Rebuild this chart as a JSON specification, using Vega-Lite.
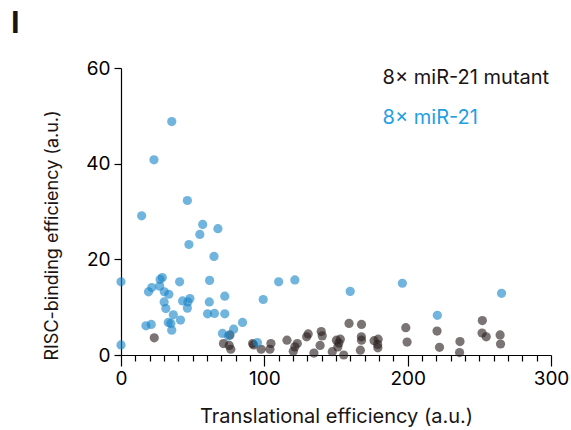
{
  "$schema": "https://vega.github.io/schema/vega-lite/v6.json",
  "width": 430,
  "height": 287,
  "autosize": "none",
  "padding": {"left": 121, "top": 68, "right": 20, "bottom": 75},
  "background": "white",
  "config": {
    "view": {"stroke": null},
    "font": "Inter",
    "axis": {"grid": false, "domainColor": "#000", "tickColor": "#000", "labelColor": "#000", "titleColor": "#1a1414", "labelFont": "Inter", "titleFont": "Inter", "titleFontWeight": "normal", "labelOverlap": false}
  },
  "title": {"text": "I", "anchor": "start", "frame": "group", "dx": -110, "dy": -15, "fontSize": 31, "fontWeight": "bold", "color": "#1a1414", "font": "Liberation Sans"},
  "datasets": {
    "pts": [
      {"te": 23.2, "rb": 3.6, "group": "8× miR-21 mutant"},
      {"te": 71.5, "rb": 2.4, "group": "8× miR-21 mutant"},
      {"te": 75.5, "rb": 2.0, "group": "8× miR-21 mutant"},
      {"te": 76.6, "rb": 1.2, "group": "8× miR-21 mutant"},
      {"te": 76.0, "rb": 4.2, "group": "8× miR-21 mutant"},
      {"te": 91.8, "rb": 2.4, "group": "8× miR-21 mutant"},
      {"te": 92.5, "rb": 2.1, "group": "8× miR-21 mutant"},
      {"te": 97.8, "rb": 1.2, "group": "8× miR-21 mutant"},
      {"te": 104.6, "rb": 2.4, "group": "8× miR-21 mutant"},
      {"te": 103.9, "rb": 1.2, "group": "8× miR-21 mutant"},
      {"te": 115.8, "rb": 3.1, "group": "8× miR-21 mutant"},
      {"te": 123.0, "rb": 2.4, "group": "8× miR-21 mutant"},
      {"te": 121.3, "rb": 1.7, "group": "8× miR-21 mutant"},
      {"te": 120.2, "rb": 0.8, "group": "8× miR-21 mutant"},
      {"te": 129.5, "rb": 3.8, "group": "8× miR-21 mutant"},
      {"te": 130.6, "rb": 4.4, "group": "8× miR-21 mutant"},
      {"te": 134.6, "rb": 0.4, "group": "8× miR-21 mutant"},
      {"te": 139.7, "rb": 4.9, "group": "8× miR-21 mutant"},
      {"te": 140.4, "rb": 4.0, "group": "8× miR-21 mutant"},
      {"te": 138.9, "rb": 2.0, "group": "8× miR-21 mutant"},
      {"te": 147.4, "rb": 0.7, "group": "8× miR-21 mutant"},
      {"te": 150.3, "rb": 3.1, "group": "8× miR-21 mutant"},
      {"te": 153.0, "rb": 3.3, "group": "8× miR-21 mutant"},
      {"te": 152.0, "rb": 2.5, "group": "8× miR-21 mutant"},
      {"te": 151.3, "rb": 1.7, "group": "8× miR-21 mutant"},
      {"te": 155.4, "rb": 0.0, "group": "8× miR-21 mutant"},
      {"te": 159.1, "rb": 6.6, "group": "8× miR-21 mutant"},
      {"te": 167.8, "rb": 6.4, "group": "8× miR-21 mutant"},
      {"te": 167.7, "rb": 3.8, "group": "8× miR-21 mutant"},
      {"te": 167.8, "rb": 3.1, "group": "8× miR-21 mutant"},
      {"te": 167.0, "rb": 1.0, "group": "8× miR-21 mutant"},
      {"te": 176.6, "rb": 3.0, "group": "8× miR-21 mutant"},
      {"te": 179.4, "rb": 3.3, "group": "8× miR-21 mutant"},
      {"te": 179.1, "rb": 2.2, "group": "8× miR-21 mutant"},
      {"te": 179.2, "rb": 1.5, "group": "8× miR-21 mutant"},
      {"te": 198.7, "rb": 5.7, "group": "8× miR-21 mutant"},
      {"te": 199.6, "rb": 2.7, "group": "8× miR-21 mutant"},
      {"te": 220.5, "rb": 5.0, "group": "8× miR-21 mutant"},
      {"te": 222.2, "rb": 1.6, "group": "8× miR-21 mutant"},
      {"te": 236.5, "rb": 2.8, "group": "8× miR-21 mutant"},
      {"te": 236.2, "rb": 0.5, "group": "8× miR-21 mutant"},
      {"te": 252.1, "rb": 7.2, "group": "8× miR-21 mutant"},
      {"te": 251.9, "rb": 4.6, "group": "8× miR-21 mutant"},
      {"te": 254.8, "rb": 3.8, "group": "8× miR-21 mutant"},
      {"te": 264.5, "rb": 4.2, "group": "8× miR-21 mutant"},
      {"te": 264.8, "rb": 2.3, "group": "8× miR-21 mutant"},
      {"te": 35.4, "rb": 48.8, "group": "8× miR-21"},
      {"te": 23.0, "rb": 40.8, "group": "8× miR-21"},
      {"te": 46.3, "rb": 32.3, "group": "8× miR-21"},
      {"te": 14.4, "rb": 29.1, "group": "8× miR-21"},
      {"te": 57.0, "rb": 27.3, "group": "8× miR-21"},
      {"te": 55.0, "rb": 25.2, "group": "8× miR-21"},
      {"te": 67.6, "rb": 26.4, "group": "8× miR-21"},
      {"te": 47.4, "rb": 23.1, "group": "8× miR-21"},
      {"te": 64.9, "rb": 20.6, "group": "8× miR-21"},
      {"te": 0.0, "rb": 15.3, "group": "8× miR-21"},
      {"te": 61.8, "rb": 15.6, "group": "8× miR-21"},
      {"te": 40.9, "rb": 15.3, "group": "8× miR-21"},
      {"te": 110.0, "rb": 15.3, "group": "8× miR-21"},
      {"te": 121.3, "rb": 15.7, "group": "8× miR-21"},
      {"te": 28.8, "rb": 16.2, "group": "8× miR-21"},
      {"te": 27.3, "rb": 15.8, "group": "8× miR-21"},
      {"te": 21.5, "rb": 14.1, "group": "8× miR-21"},
      {"te": 19.2, "rb": 13.2, "group": "8× miR-21"},
      {"te": 27.0, "rb": 14.4, "group": "8× miR-21"},
      {"te": 30.2, "rb": 13.2, "group": "8× miR-21"},
      {"te": 33.4, "rb": 12.7, "group": "8× miR-21"},
      {"te": 30.1, "rb": 11.1, "group": "8× miR-21"},
      {"te": 31.3, "rb": 9.7, "group": "8× miR-21"},
      {"te": 43.0, "rb": 11.3, "group": "8× miR-21"},
      {"te": 48.1, "rb": 11.8, "group": "8× miR-21"},
      {"te": 46.7, "rb": 11.1, "group": "8× miR-21"},
      {"te": 46.3, "rb": 9.8, "group": "8× miR-21"},
      {"te": 61.6, "rb": 11.1, "group": "8× miR-21"},
      {"te": 60.4, "rb": 8.6, "group": "8× miR-21"},
      {"te": 65.2, "rb": 8.7, "group": "8× miR-21"},
      {"te": 72.4, "rb": 12.3, "group": "8× miR-21"},
      {"te": 72.4, "rb": 8.6, "group": "8× miR-21"},
      {"te": 99.2, "rb": 11.6, "group": "8× miR-21"},
      {"te": 36.5, "rb": 8.4, "group": "8× miR-21"},
      {"te": 41.5, "rb": 7.3, "group": "8× miR-21"},
      {"te": 33.0, "rb": 6.8, "group": "8× miR-21"},
      {"te": 34.8, "rb": 6.6, "group": "8× miR-21"},
      {"te": 35.4, "rb": 5.2, "group": "8× miR-21"},
      {"te": 21.1, "rb": 6.4, "group": "8× miR-21"},
      {"te": 17.4, "rb": 6.1, "group": "8× miR-21"},
      {"te": 84.8, "rb": 6.8, "group": "8× miR-21"},
      {"te": 78.6, "rb": 5.4, "group": "8× miR-21"},
      {"te": 70.8, "rb": 4.5, "group": "8× miR-21"},
      {"te": 74.9, "rb": 4.0, "group": "8× miR-21"},
      {"te": 95.2, "rb": 2.6, "group": "8× miR-21"},
      {"te": 0.0, "rb": 2.1, "group": "8× miR-21"},
      {"te": 159.9, "rb": 13.3, "group": "8× miR-21"},
      {"te": 196.3, "rb": 15.0, "group": "8× miR-21"},
      {"te": 220.7, "rb": 8.3, "group": "8× miR-21"},
      {"te": 265.5, "rb": 12.9, "group": "8× miR-21"}
    ],
    "labels": [
      {"te": 182.5, "rb": 57.9, "group": "8× miR-21 mutant"},
      {"te": 182.5, "rb": 49.5, "group": "8× miR-21"}
    ]
  },
  "layer": [
    {
      "data": {"name": "pts"},
      "mark": {"type": "circle", "size": 85, "opacity": 0.62, "clip": false},
      "encoding": {
        "x": {"field": "te", "type": "quantitative", "scale": {"domain": [0, 300], "nice": false, "zero": false},
          "axis": {"title": "Translational efficiency (a.u.)", "values": [0,10,20,30,40,50,60,70,80,90,100,110,120,130,140,150,160,170,180,190,200,210,220,230,240,250,260,270,280,290,300],
            "labelExpr": "datum.value % 100 === 0 ? datum.label : ''",
            "tickSize": {"condition": {"test": "datum.value % 100 === 0", "value": 11}, "value": 6},
            "tickWidth": 1.2, "domainWidth": 1.2, "labelFontSize": 19, "titleFontSize": 20, "labelPadding": 3, "titlePadding": 18, "labelFlush": false, "labelOverlap": false, "labelBound": false}},
        "y": {"field": "rb", "type": "quantitative", "scale": {"domain": [0, 60], "nice": false},
          "axis": {"title": "RISC-binding efficiency (a.u.)", "values": [0, 20, 40, 60], "tickSize": 7, "tickWidth": 1.2, "domainWidth": 1.2, "labelFontSize": 19, "titleFontSize": 18, "labelPadding": 4,
            "titleX": -69, "titleY": 167, "titleAngle": -90, "titleAlign": "center", "titleBaseline": "middle"}},
        "color": {"field": "group", "type": "nominal", "scale": {"domain": ["8× miR-21 mutant", "8× miR-21"], "range": ["#2a1e1e", "#1a86c8"]}, "legend": null}
      }
    },
    {
      "data": {"name": "labels"},
      "mark": {"type": "text", "align": "left", "baseline": "middle", "fontSize": 20, "font": "Inter"},
      "encoding": {
        "x": {"field": "te", "type": "quantitative", "axis": null},
        "y": {"field": "rb", "type": "quantitative", "axis": null},
        "text": {"field": "group"},
        "color": {"field": "group", "type": "nominal", "scale": {"domain": ["8× miR-21 mutant", "8× miR-21"], "range": ["#1a1414", "#1ea0e4"]}, "legend": null}
      }
    }
  ],
  "resolve": {"scale": {"color": "independent"}, "axis": {"x": "independent", "y": "independent"}}
}
